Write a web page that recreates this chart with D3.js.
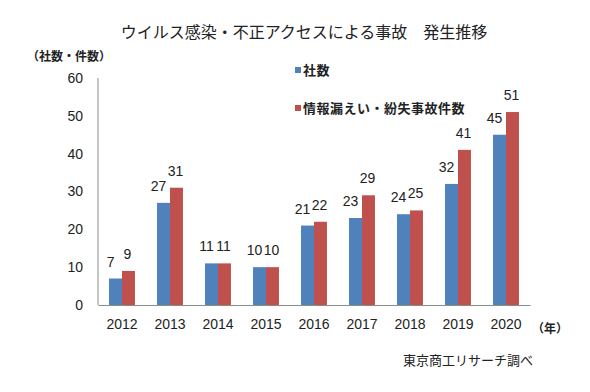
<!DOCTYPE html>
<html lang="ja">
<head>
    <meta charset="utf-8">
    <title>ウイルス感染・不正アクセスによる事故 発生推移</title>
    <script src="https://d3js.org/d3.v7.min.js"></script>
    <style>
        body { margin: 0; background: #fff; }
        svg { display: block; }
        .jp { font-family: "Noto Sans CJK JP", sans-serif; fill: #222; }
        .num { font-family: "Liberation Sans", Arial, sans-serif; font-size: 14px; fill: #222; }
        .axis path, .axis line { stroke: #8c8c8c; }
    </style>
</head>
<body>
<svg class="chart"></svg>
<script>
    // data
    const years = ["2012", "2013", "2014", "2015", "2016", "2017", "2018", "2019", "2020"];
    const companies = [7, 27, 11, 10, 21, 23, 24, 32, 45];      // 社数
    const incidents = [9, 31, 11, 10, 22, 29, 25, 41, 51];      // 情報漏えい・紛失事故件数
    const seriesNames = ["社数", "情報漏えい・紛失事故件数"];
    const yTicks = [0, 10, 20, 30, 40, 50, 60];

    const colors = ["#4f81bd", "#c0504d"];
    const width = 590, height = 392;

    const rows = years.map((y, i) => ({year: y, values: [companies[i], incidents[i]]}));

    const svg = d3.select("svg.chart")
        .attr("width", width)
        .attr("height", height);

    // scales
    const x = d3.scaleBand()
        .domain(years)
        .range([98, 530])
        .paddingInner(0.46)
        .paddingOuter(0.23);

    const xSub = d3.scaleBand()
        .domain([0, 1])
        .range([0, x.bandwidth()]);

    const y = d3.scaleLinear()
        .domain([0, 60])
        .range([305, 78]);

    // title
    svg.append("text").attr("class", "jp")
        .attr("x", 304).attr("y", 38)
        .attr("text-anchor", "middle")
        .style("font-size", "16px")
        .text("ウイルス感染・不正アクセスによる事故　発生推移");

    svg.append("text").attr("class", "jp")
        .attr("x", 27).attr("y", 61)
        .style("font-size", "12px")
        .style("font-weight", "bold")
        .text("（社数・件数）");

    // bars
    const groups = svg.selectAll("g.year")
        .data(rows)
        .enter().append("g").attr("class", "year")
        .attr("transform", d => `translate(${x(d.year)},0)`);

    groups.selectAll("rect")
        .data(d => d.values)
        .enter().append("rect")
        .attr("x", (d, i) => xSub(i))
        .attr("width", xSub.bandwidth())
        .attr("y", d => y(d))
        .attr("height", d => y(0) - y(d))
        .style("fill", (d, i) => colors[i]);

    // value labels (blue ones sit a bit to the left, like the original)
    groups.selectAll("text.value")
        .data(d => d.values)
        .enter().append("text").attr("class", "num value")
        .attr("x", (d, i) => xSub(i) + xSub.bandwidth() / 2 - (i === 0 ? 5 : 1))
        .attr("y", d => y(d) - 12)
        .attr("text-anchor", "middle")
        .text(d => d);

    // axes
    svg.append("g").attr("class", "axis")
        .attr("transform", `translate(0,${y(0)})`)
        .call(d3.axisBottom(x).tickSize(0).tickPadding(14))
        .call(g => g.selectAll("text").attr("class", "num").style("font-size", "14px"));

    svg.append("g").attr("class", "axis")
        .attr("transform", "translate(98,0)")
        .call(d3.axisLeft(y).tickValues(yTicks).tickSize(0).tickPadding(15))
        .call(g => g.select(".domain").attr("d", `M0,${y(60)}V${y(0)}`))
        .call(g => g.selectAll("text").attr("class", "num").style("font-size", "14px"));

    svg.selectAll(".axis").attr("font-family", null).attr("font-size", null);

    // legend
    const legend = svg.selectAll("g.legend")
        .data(seriesNames)
        .enter().append("g").attr("class", "legend")
        .attr("transform", (d, i) => `translate(295,${70 + i * 38})`);

    legend.append("rect")
        .attr("x", 0).attr("y", -3)
        .attr("width", 6).attr("height", 6)
        .style("fill", (d, i) => colors[i]);

    legend.append("text").attr("class", "jp")
        .attr("x", 8).attr("y", 5)
        .style("font-size", "13px")
        .style("font-weight", "bold")
        .style("letter-spacing", "0.5px")
        .text(d => d);

    // unit and source
    svg.append("text").attr("class", "jp")
        .attr("x", 532).attr("y", 333)
        .style("font-size", "12px")
        .style("font-weight", "bold")
        .text("（年）");

    svg.append("text").attr("class", "jp")
        .attr("x", 403).attr("y", 365)
        .style("font-size", "13px")
        .text("東京商工リサーチ調べ");
</script>
</body>
</html>
